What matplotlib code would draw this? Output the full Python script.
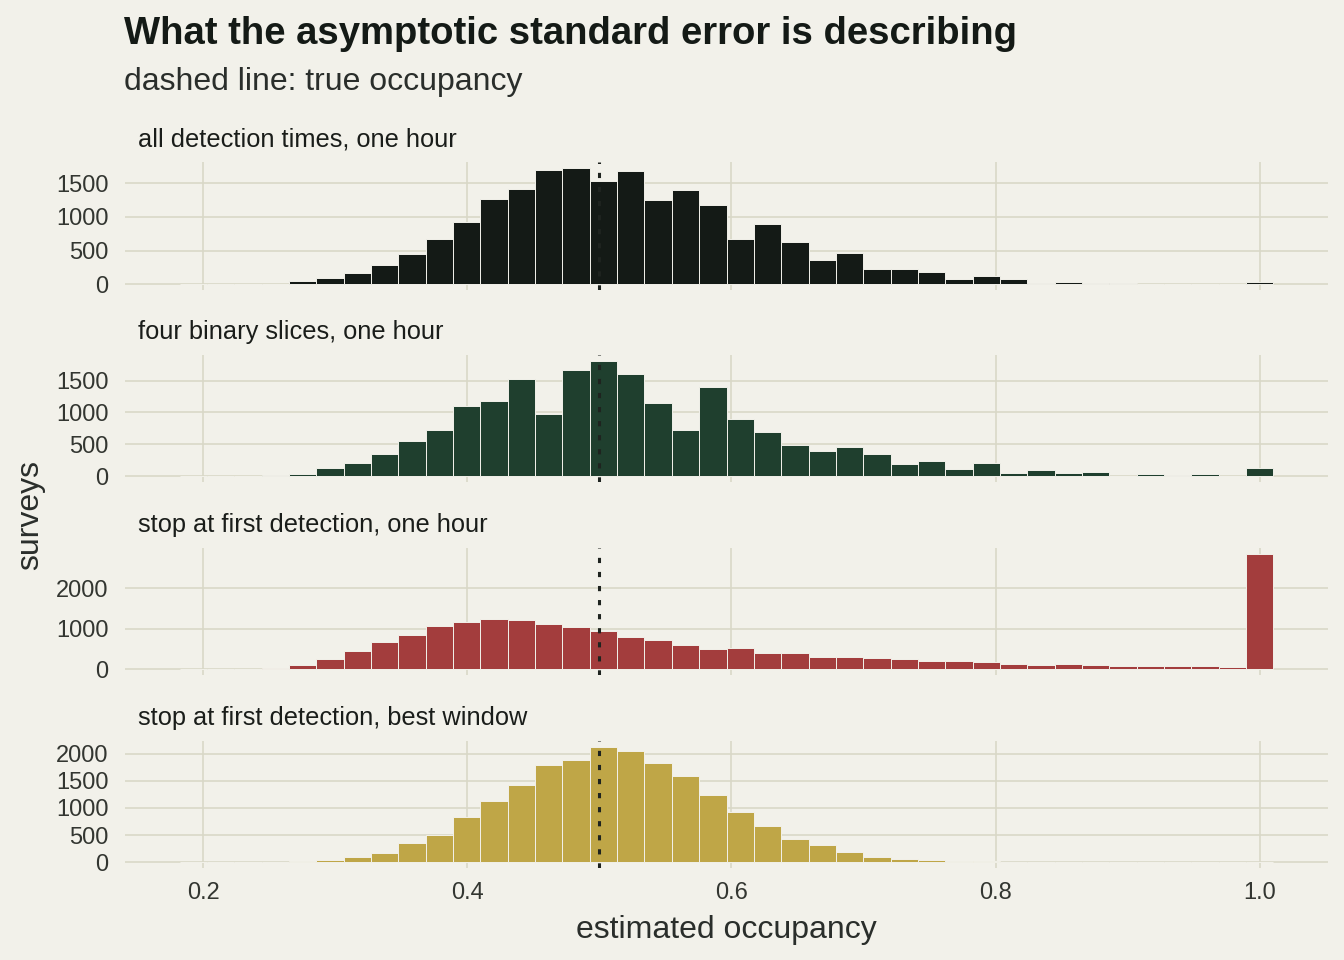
import numpy as np
import matplotlib
matplotlib.use("Agg")
import matplotlib.pyplot as plt

plt.rcParams['font.family'] = ['Liberation Sans', 'DejaVu Sans']

# histogram bins: 40 bins, first centre at the smallest estimate, last at 1.0
first_centre = 0.1925
last_centre = 1.0
n_bins = 40

panel_titles = [
    "all detection times, one hour",
    "four binary slices, one hour",
    "stop at first detection, one hour",
    "stop at first detection, best window",
]

counts_all = [5, 5, 2, 10, 45, 95, 165, 290, 445, 670,
              930, 1260, 1415, 1700, 1730, 1540, 1680, 1245, 1400, 1180,
              665, 895, 620, 360, 465, 220, 220, 175, 80, 125,
              70, 25, 30, 25, 20, 10, 5, 2, 2, 35]
counts_binary = [0, 2, 5, 20, 30, 125, 205, 350, 550, 725,
                 1095, 1175, 1530, 980, 1665, 1810, 1600, 1145, 725, 1400,
                 895, 695, 490, 395, 460, 355, 190, 235, 115, 200,
                 50, 100, 50, 70, 10, 40, 20, 35, 5, 130]
counts_stop = [0, 2, 15, 40, 115, 240, 445, 665, 845, 1065,
               1170, 1230, 1220, 1105, 1040, 940, 795, 720, 600, 500,
               515, 395, 395, 310, 310, 270, 240, 215, 195, 170,
               130, 105, 130, 105, 90, 90, 90, 80, 65, 2845]
counts_best = [0, 0, 0, 8, 20, 45, 90, 165, 350, 495,
               825, 1125, 1415, 1785, 1880, 2125, 2050, 1820, 1585, 1240,
               920, 665, 430, 325, 195, 105, 60, 35, 30, 15,
               8, 2, 2, 1, 1, 1, 1, 1, 1, 5]

panel_counts = [counts_all, counts_binary, counts_stop, counts_best]
panel_colors = ["#141a16", "#1f3f2e", "#a33d3d", "#bfa647"]
panel_yticks = [[0, 500, 1000, 1500], [0, 500, 1000, 1500],
                [0, 1000, 2000], [0, 500, 1000, 1500, 2000]]
x_ticks = [0.2, 0.4, 0.6, 0.8, 1.0]
true_occupancy = 0.5

bg = "#f2f1ea"
grid_col = "#d9d8c8"
dark = "#141a16"

W, H = 1344, 960
fig = plt.figure(figsize=(W / 100, H / 100), dpi=100, facecolor=bg)

centres = np.linspace(first_centre, last_centre, n_bins)
binw = centres[1] - centres[0]
lo = centres[0] - binw / 2
hi = centres[-1] + binw / 2
pad = 0.05 * (hi - lo)

# panel pixel boxes (top, bottom)
panel_px = [(162, 290), (355, 482), (548, 675), (741, 868)]
left_px, right_px = 125, 1328

for i, (top, bot) in enumerate(panel_px):
    ax = fig.add_axes([left_px / W, 1 - bot / H,
                       (right_px - left_px) / W, (bot - top) / H])
    ax.set_facecolor(bg)
    counts = panel_counts[i]
    ax.bar(centres, counts, width=binw, color=panel_colors[i],
           edgecolor=bg, linewidth=0.7, zorder=2)
    ax.axvline(true_occupancy, color="#1e231f", lw=2.2,
               linestyle=(0, (1.7, 2.9)), zorder=3)
    m = max(counts)
    ax.set_ylim(-0.05 * m, 1.05 * m)
    ax.set_xlim(lo - pad, hi + pad)
    ax.set_yticks(panel_yticks[i])
    ax.set_xticks(x_ticks)
    ax.grid(True, color=grid_col, lw=1.2, zorder=0)
    ax.set_axisbelow(True)
    for s in ax.spines.values():
        s.set_visible(False)
    ax.tick_params(length=0, labelsize=17, labelcolor="#333631", pad=12)
    if i < 3:
        ax.tick_params(labelbottom=False)
    else:
        ax.tick_params(axis="x", pad=10)
        ax.set_xticklabels(["0.2", "0.4", "0.6", "0.8", "1.0"])
        ax.set_xlabel("estimated occupancy", fontsize=23, color="#2a2e2b",
                      labelpad=8)
    fig.text(138 / W, 1 - (top - 16) / H, panel_titles[i], fontsize=18.3,
             color="#1a1d1a", ha="left", va="baseline")

fig.text(30 / W, 1 - 515 / H, "surveys", rotation=90, fontsize=23,
         color="#2a2e2b", ha="center", va="center")

fig.text(124 / W, 1 - 44 / H, "What the asymptotic standard error is describing",
         fontsize=27.5, fontweight="bold", color=dark, ha="left", va="baseline")
fig.text(124 / W, 1 - 90 / H, "dashed line: true occupancy", fontsize=23,
         color="#2a2e2b", ha="left", va="baseline")

fig.savefig("out.png", dpi=100, facecolor=bg)
